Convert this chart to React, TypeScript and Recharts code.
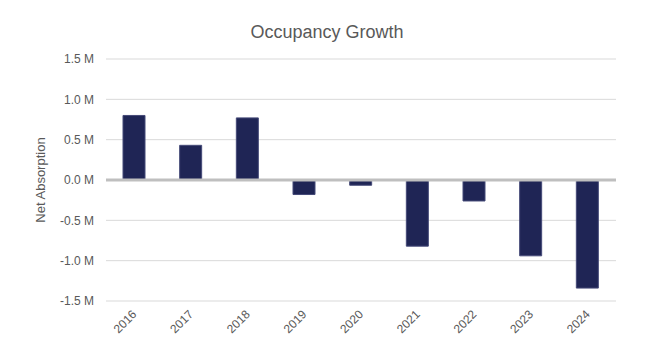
import { Bar, BarChart, CartesianGrid, ReferenceLine, XAxis, YAxis } from 'recharts'

const YEARS = ['2016', '2017', '2018', '2019', '2020', '2021', '2022', '2023', '2024']
const NET_ABSORPTION = [800000, 430000, 770000, -180000, -65000, -820000, -260000, -940000, -1340000]
const Y_TICKS = [-1500000, -1000000, -500000, 0, 500000, 1000000, 1500000]

const FONT = '"Liberation Sans", Arial, Helvetica, sans-serif'
const TEXT_COLOR = '#595959'

const data = YEARS.map((year, i) => ({ year, value: NET_ABSORPTION[i] }))

const formatMillions = (v: number) => `${(v / 1000000).toFixed(1)} M`

function YearTick({ x, y, payload }: any) {
  return (
    <g transform={`translate(${x + 3},${y + 12})`}>
      <text transform="rotate(-45)" textAnchor="end" fill={TEXT_COLOR} fontSize={12} fontFamily={FONT}>
        {payload.value}
      </text>
    </g>
  )
}

export default function App() {
  return (
    <div style={{ position: 'absolute', left: 0, top: 0, width: 655, height: 360, background: '#fff' }}>
      <svg width={655} height={60} style={{ position: 'absolute', left: 0, top: 0, pointerEvents: 'none' }}>
        <text x={327} y={38} textAnchor="middle" fill={TEXT_COLOR} fontSize={18} fontFamily={FONT}>
          Occupancy Growth
        </text>
      </svg>
      <BarChart
        width={655}
        height={360}
        data={data}
        margin={{ top: 59, right: 39, bottom: 29, left: 0 }}
        style={{ fontFamily: FONT }}
      >
        <CartesianGrid vertical={false} stroke="#d9d9d9" />
        <XAxis
          dataKey="year"
          height={30}
          axisLine={false}
          tickLine={false}
          tickSize={0}
          interval={0}
          tick={<YearTick />}
        />
        <YAxis
          width={106}
          domain={[-1500000, 1500000]}
          ticks={Y_TICKS}
          tickFormatter={formatMillions}
          axisLine={false}
          tickLine={false}
          tickSize={0}
          tickMargin={12}
          tick={{ fill: TEXT_COLOR, fontSize: 12, fontFamily: FONT }}
          label={{
            value: 'Net Absorption',
            angle: -90,
            position: 'insideLeft',
            offset: 40,
            style: { textAnchor: 'middle', fill: TEXT_COLOR, fontSize: 13, fontFamily: FONT },
          }}
        />
        <Bar dataKey="value" fill="#1f2555" stroke="#454a78" strokeWidth={1} barSize={22} isAnimationActive={false} />
        <ReferenceLine y={0} stroke="#bfbfbf" strokeWidth={3} />
      </BarChart>
    </div>
  )
}
